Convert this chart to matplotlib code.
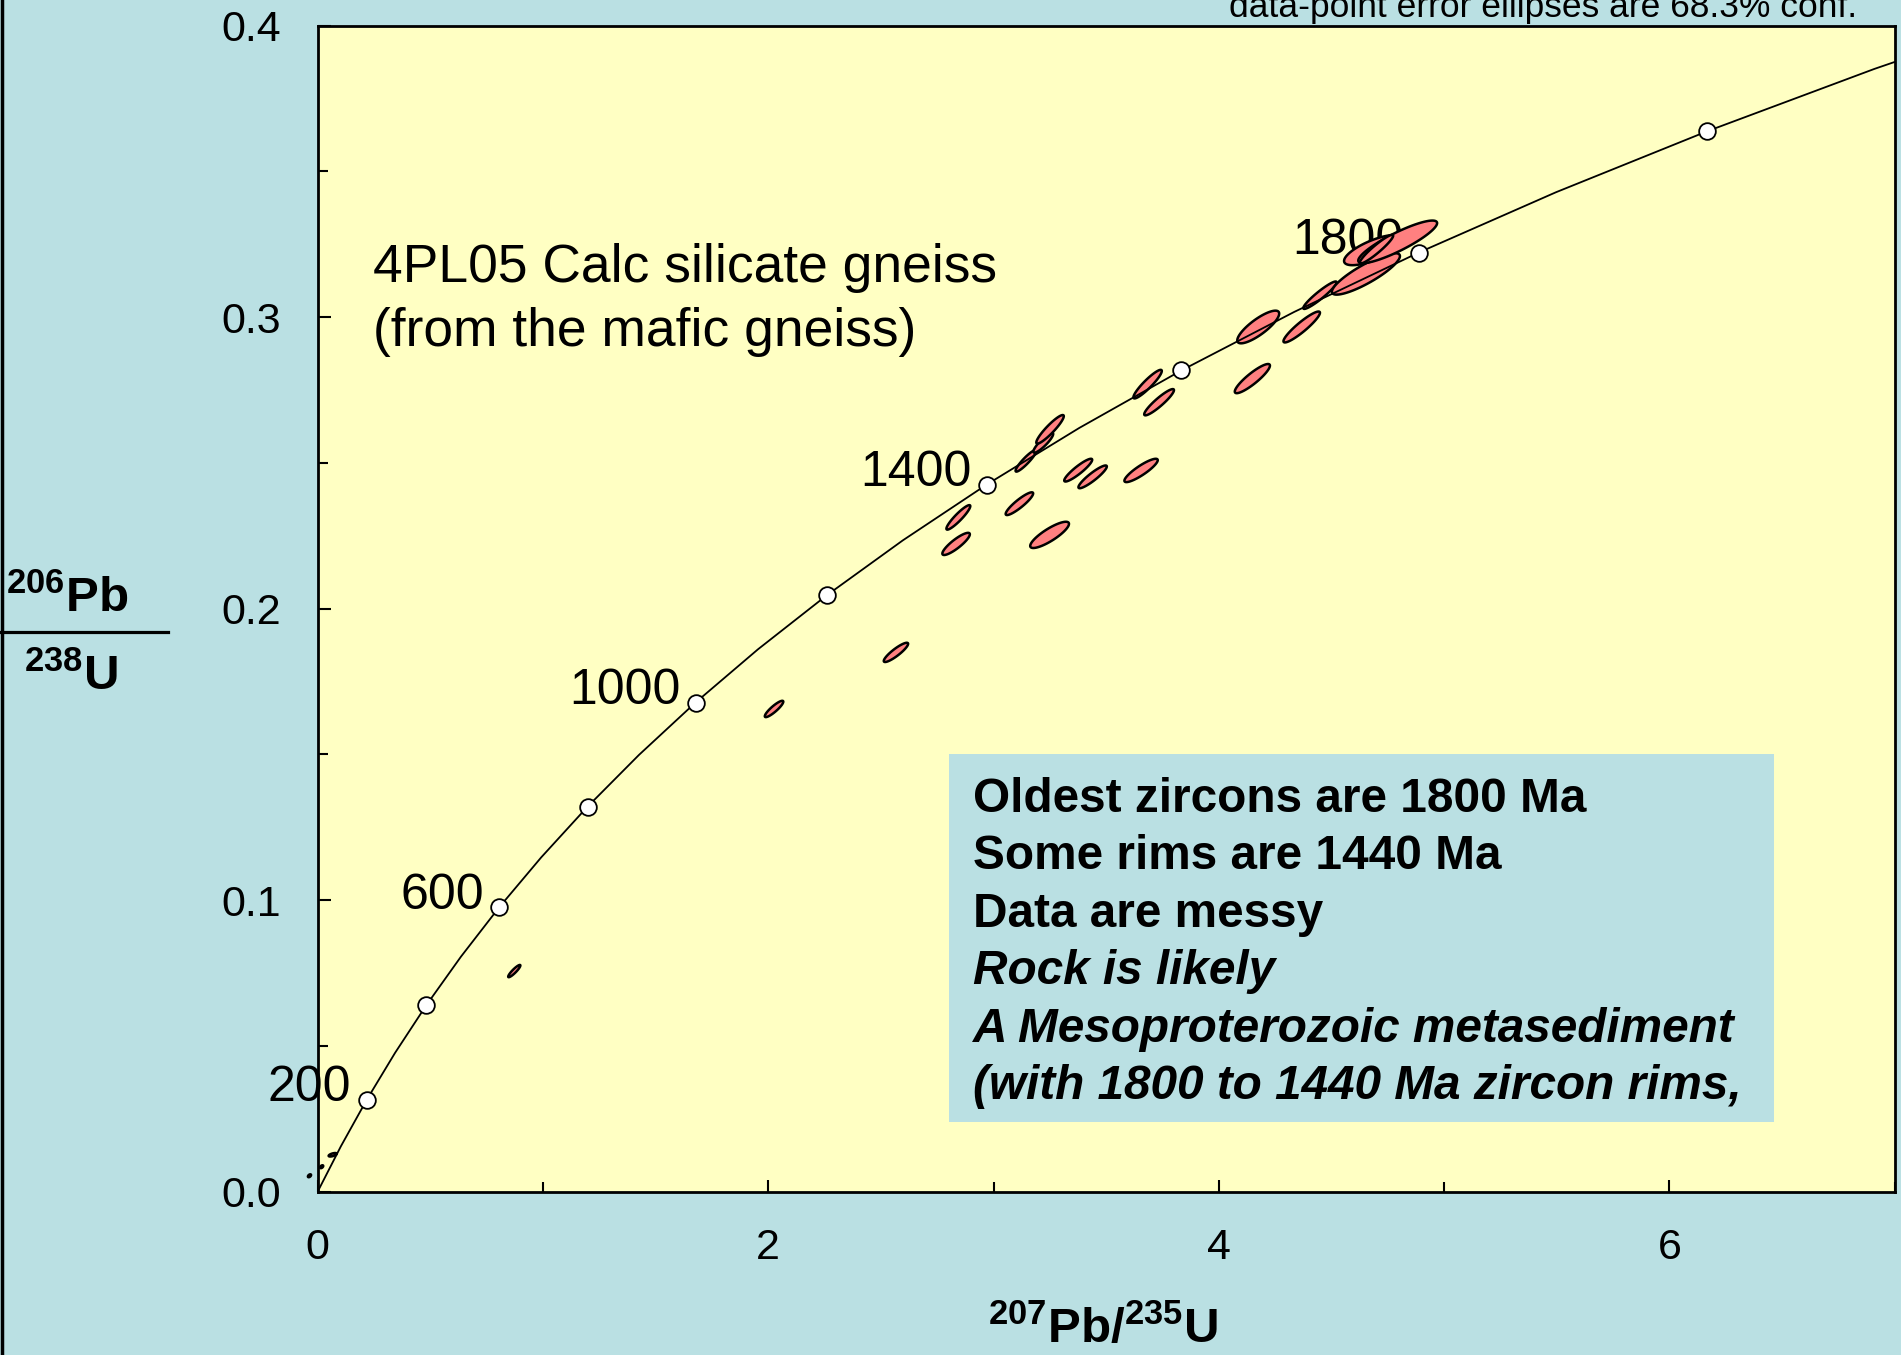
import numpy as np
import matplotlib
matplotlib.use("Agg")
import matplotlib.pyplot as plt
from matplotlib.patches import Polygon, Rectangle
from matplotlib.lines import Line2D
from matplotlib.ticker import MultipleLocator, FormatStrFormatter

plt.rcParams['font.family'] = ['Liberation Sans', 'DejaVu Sans']
plt.rcParams['mathtext.fontset'] = 'custom'
plt.rcParams['mathtext.rm'] = 'Liberation Sans'
plt.rcParams['mathtext.bf'] = 'Liberation Sans:bold'

BG = '#BAE0E3'
PLOT_BG = '#FFFFC3'
ELL_FILL = '#FF8080'

# concordia curve vertices (207Pb/235U, 206Pb/238U), every 100 Ma up to the right edge
conc_x = [0.0, 0.1035, 0.2177, 0.3437, 0.4828, 0.6363, 0.8056, 0.9925, 1.1987,
          1.4263, 1.6774, 1.9545, 2.2603, 2.5977, 2.9701, 3.3810, 3.8344,
          4.3348, 4.8869, 5.4962, 6.1685, 6.9105, 7.0]
conc_y = [0.0, 0.01563, 0.03151, 0.04764, 0.06402, 0.08065, 0.09754, 0.11470,
          0.13213, 0.14983, 0.16780, 0.18605, 0.20460, 0.22343, 0.24257,
          0.26199, 0.28172, 0.30177, 0.32211, 0.34280, 0.36375, 0.38513, 0.3875]

# age markers on concordia (Ma)
mark_age = [200, 400, 600, 800, 1000, 1200, 1400, 1600, 1800, 2000]
mark_x = [0.2177, 0.4828, 0.8056, 1.1987, 1.6774, 2.2603, 2.9701, 3.8344, 4.8869, 6.1685]
mark_y = [0.03151, 0.06402, 0.09754, 0.13213, 0.16780, 0.20460, 0.24257, 0.28172, 0.32211, 0.36375]
label_ages = [200, 600, 1000, 1400, 1800]

# zircon analyses: x, x half-extent, y, y half-extent, correlation
ell_x = [-0.036, 0.018, 0.067,
         0.873, 2.026, 2.567, 2.834, 2.844, 3.115, 3.249, 3.144, 3.221, 3.251,
         3.376, 3.440, 3.655, 3.684, 3.735, 4.149, 4.175, 4.368, 4.449,
         4.590, 4.653, 4.688, 4.794, 4.700]
ell_xerr = [0.007, 0.007, 0.018,
            0.027, 0.041, 0.054, 0.061, 0.053, 0.061, 0.086, 0.046, 0.044, 0.061,
            0.062, 0.063, 0.074, 0.063, 0.066, 0.078, 0.093, 0.081, 0.074,
            0.081, 0.151, 0.132, 0.175, 0.074]
ell_y = [0.0055, 0.0086, 0.0127,
         0.0757, 0.1656, 0.1850, 0.2222, 0.2313, 0.2360, 0.2253, 0.2507, 0.2569, 0.2615,
         0.2475, 0.2452, 0.2474, 0.2770, 0.2708, 0.2789, 0.2966, 0.2966, 0.3075,
         0.3133, 0.3148, 0.3230, 0.3258, 0.3233]
ell_yerr = [0.0005, 0.0005, 0.0006,
            0.0021, 0.0028, 0.0033, 0.0038, 0.0042, 0.0039, 0.0045, 0.0037, 0.0034, 0.0049,
            0.0039, 0.0039, 0.0040, 0.0049, 0.0045, 0.0050, 0.0056, 0.0053, 0.0047,
            0.0051, 0.0071, 0.0052, 0.0073, 0.0049]
ell_rho = [0.5, 0.5, 0.6,
           0.91, 0.89, 0.89, 0.87, 0.92, 0.90, 0.84, 0.92, 0.89, 0.92,
           0.91, 0.91, 0.88, 0.92, 0.92, 0.89, 0.82, 0.92, 0.94,
           0.94, 0.86, 0.72, 0.88, 0.94]

title_lines = ['4PL05 Calc silicate gneiss', '(from the mafic gneiss)']
box_lines = ['Oldest zircons are 1800 Ma', 'Some rims are 1440 Ma', 'Data are messy',
             'Rock is likely', 'A Mesoproterozoic metasediment',
             '(with 1800 to 1440 Ma zircon rims,']
box_italic = [False, False, False, True, True, True]


def ellipse_xy(x, ex, y, ey, rho, n=120):
    t = np.linspace(0, 2 * np.pi, n)
    return np.column_stack([x + ex * np.cos(t),
                            y + ey * (rho * np.cos(t) + np.sqrt(1 - rho ** 2) * np.sin(t))])


W, H = 1901, 1355
fig = plt.figure(figsize=(W / 100, H / 100), dpi=100, facecolor=BG)
ax = fig.add_axes([317.6 / W, 1 - 1191.8 / H, (1894.7 - 317.6) / W, (1191.8 - 25.5) / H])
ax.set_facecolor(PLOT_BG)
ax.set_xlim(0, 7)
ax.set_ylim(0, 0.4)

# info box
ax.add_patch(Rectangle((2.804, 0.0241), 6.463 - 2.804, 0.1501 - 0.0241,
                       facecolor=BG, edgecolor='none', zorder=1))
for i, (line, it) in enumerate(zip(box_lines, box_italic)):
    ax.text(2.911, 0.1303 - i * 0.01972, line, fontsize=34.4, fontweight='bold',
            style='italic' if it else 'normal', ha='left', va='baseline', zorder=6)

# sample name
ax.text(0.2475, 0.3119, title_lines[0], fontsize=38.4, ha='left', va='baseline')
ax.text(0.2475, 0.2902, title_lines[1], fontsize=38.4, ha='left', va='baseline')

# age labels (under the ellipses)
for age, x, y in zip(mark_age, mark_x, mark_y):
    if age in label_ages:
        ax.annotate(str(age), (x, y), xytext=(-11, -1), textcoords='offset points',
                    ha='right', va='baseline', fontsize=36, zorder=2)

for x, ex, y, ey, r in zip(ell_x, ell_xerr, ell_y, ell_yerr, ell_rho):
    ax.add_patch(Polygon(ellipse_xy(x, ex, y, ey, r), closed=True, facecolor=ELL_FILL,
                         edgecolor='black', linewidth=1.8, zorder=3, clip_on=False))

ax.plot(conc_x, conc_y, color='black', linewidth=1.3, zorder=4)
ax.plot(mark_x, mark_y, 'o', markersize=12, markerfacecolor='white',
        markeredgecolor='black', markeredgewidth=1.3, zorder=5, clip_on=False)

for s in ax.spines.values():
    s.set_linewidth(2)
ax.xaxis.set_major_locator(MultipleLocator(2))
ax.xaxis.set_minor_locator(MultipleLocator(1))
ax.yaxis.set_major_locator(MultipleLocator(0.1))
ax.yaxis.set_minor_locator(MultipleLocator(0.05))
ax.yaxis.set_major_formatter(FormatStrFormatter('%.1f'))
ax.tick_params(which='both', direction='in', width=1.5)
ax.tick_params(which='major', length=9)
ax.tick_params(which='minor', length=7)
ax.tick_params(axis='y', which='major', labelsize=31, pad=26)
ax.tick_params(axis='x', which='major', labelsize=31, pad=26)

# axis titles
fig.text(1103 / W, 1 - 1343 / H, r'$\mathbf{^{207}Pb/^{235}U}$', fontsize=35.5,
         ha='center', va='baseline')
fig.text(6 / W, 1 - 611.7 / H, r'$\mathbf{^{206}Pb}$', fontsize=35.5, ha='left', va='baseline')
fig.text(24 / W, 1 - 690 / H, r'$\mathbf{^{238}U}$', fontsize=35.5, ha='left', va='baseline')
fig.add_artist(Line2D([0, 168 / W], [1 - 631.7 / H] * 2, color='black', linewidth=2.3,
                      transform=fig.transFigure))
fig.add_artist(Line2D([0.001, 0.001], [0, 1], color='black', linewidth=2.5,
                      transform=fig.transFigure))

fig.text(1857 / W, 1 - 17 / H, 'data-point error ellipses are 68.3% conf.', fontsize=25.5,
         ha='right', va='baseline')

fig.savefig('out.png', dpi=100, facecolor=BG)
